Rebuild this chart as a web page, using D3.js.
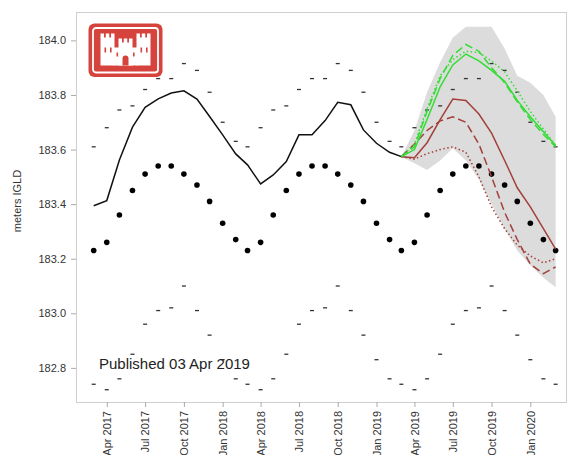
<!DOCTYPE html>
<html>
<head>
<meta charset="utf-8">
<script src="https://cdn.jsdelivr.net/npm/d3@7"></script>
<style>
  body { margin: 0; background: #fff; }
  svg { font-family: "Liberation Sans", Arial, sans-serif; }
</style>
</head>
<body>
<div class="chart-container"></div>
<script>
// monthly climatology (Jan..Dec): long-term mean, record high, record low
const avgByMonth = [183.33, 183.27, 183.23, 183.26, 183.36, 183.45, 183.51, 183.54, 183.54, 183.51, 183.47, 183.41];
const maxByMonth = [183.70, 183.63, 183.61, 183.68, 183.745, 183.76, 183.82, 183.86, 183.86, 183.915, 183.89, 183.81];
const minByMonth = [182.83, 182.76, 182.74, 182.72, 182.76, 182.85, 182.96, 183.01, 183.02, 183.10, 183.01, 182.92];

// recorded monthly levels, Mar 2017 .. Mar 2019
const recorded = [183.394, 183.413, 183.562, 183.682, 183.755, 183.786, 183.807, 183.815, 183.785, 183.721,
  183.654, 183.584, 183.544, 183.474, 183.507, 183.556, 183.654, 183.654, 183.706, 183.773, 183.764, 183.672,
  183.623, 183.59, 183.574];

// forecast, Mar 2019 .. Mar 2020
const greenSolid  = [183.574, 183.60, 183.71, 183.83, 183.91, 183.95, 183.925, 183.89, 183.85, 183.78, 183.72, 183.665, 183.615];
const greenDashed = [183.574, 183.61, 183.74, 183.86, 183.945, 183.985, 183.96, 183.90, 183.845, 183.775, 183.71, 183.655, 183.61];
const greenDotted = [183.574, 183.62, 183.75, 183.87, 183.93, 183.96, 183.955, 183.925, 183.885, 183.815, 183.74, 183.675, 183.615];
const redSolid    = [183.574, 183.57, 183.625, 183.71, 183.785, 183.78, 183.73, 183.66, 183.56, 183.46, 183.39, 183.31, 183.235];
const redDashed   = [183.574, 183.62, 183.67, 183.705, 183.72, 183.70, 183.62, 183.50, 183.37, 183.27, 183.18, 183.145, 183.17];
const redDotted   = [183.574, 183.565, 183.585, 183.60, 183.61, 183.59, 183.50, 183.39, 183.31, 183.25, 183.21, 183.185, 183.20];
const bandUpper   = [183.574, 183.67, 183.81, 183.92, 184.01, 184.05, 184.05, 184.05, 183.97, 183.87, 183.845, 183.80, 183.72];
const bandLower   = [183.574, 183.55, 183.525, 183.56, 183.605, 183.56, 183.49, 183.40, 183.31, 183.23, 183.175, 183.13, 183.095];

const yTicks = [182.8, 183.0, 183.2, 183.4, 183.6, 183.8, 184.0];
const publishedText = 'Published 03 Apr 2019';

const width = 569;
const height = 455;
const margin = { top: 12, right: 2, bottom: 53, left: 76 };

const svg = d3.select('.chart-container').append('svg')
  .attr('width', width).attr('height', height);

const x = d3.scaleTime()
  .domain([new Date(2017, 0, 18), new Date(2020, 2, 28)])
  .range([margin.left, width - margin.right]);
const y = d3.scaleLinear()
  .domain([182.675, 184.104])
  .range([height - margin.bottom, margin.top]);

const histMonths = d3.timeMonth.range(new Date(2017, 2, 1), new Date(2020, 2, 2));
const obsMonths = d3.timeMonth.range(new Date(2017, 2, 1), new Date(2019, 2, 2));
const fcMonths = d3.timeMonth.range(new Date(2019, 2, 1), new Date(2020, 2, 2));

// frame
svg.append('rect')
  .attr('x', margin.left + 0.5).attr('y', margin.top + 0.5)
  .attr('width', width - margin.left - margin.right - 1)
  .attr('height', height - margin.top - margin.bottom)
  .attr('fill', 'none').attr('stroke', '#cfcfcf');

// forecast range band
const band = d3.area()
  .x((d, i) => x(fcMonths[i]))
  .y0((d, i) => y(bandLower[i]))
  .y1(d => y(d));
svg.append('path').datum(bandUpper)
  .attr('d', band).attr('fill', '#dcdcdc');

// record high / low dashes
const dashW = 4;
[maxByMonth, minByMonth].forEach(arr => {
  svg.append('g').selectAll('line')
    .data(histMonths).enter().append('line')
    .attr('x1', d => x(d) - dashW / 2).attr('x2', d => x(d) + dashW / 2)
    .attr('y1', d => y(arr[d.getMonth()])).attr('y2', d => y(arr[d.getMonth()]))
    .attr('stroke', '#333').attr('stroke-width', 1.3);
});

// long term average dots
svg.append('g').selectAll('circle')
  .data(histMonths).enter().append('circle')
  .attr('cx', d => x(d)).attr('cy', d => y(avgByMonth[d.getMonth()]))
  .attr('r', 2.8).attr('fill', '#000');

// recorded line
const line = d3.line().x(d => x(d[0])).y(d => y(d[1]));
svg.append('path').datum(obsMonths.map((m, i) => [m, recorded[i]]))
  .attr('d', line).attr('fill', 'none').attr('stroke', '#111').attr('stroke-width', 1.5);

// forecast lines
const series = [
  { v: redDotted, c: '#a3403a', dash: '1.5,2.5' },
  { v: redDashed, c: '#a3403a', dash: '8,4' },
  { v: redSolid, c: '#a3403a', dash: null },
  { v: greenDotted, c: '#33dd33', dash: '1.5,2.5' },
  { v: greenDashed, c: '#33dd33', dash: '8,4' },
  { v: greenSolid, c: '#33dd33', dash: null }
];
series.forEach(s => {
  svg.append('path').datum(fcMonths.map((m, i) => [m, s.v[i]]))
    .attr('d', line).attr('fill', 'none')
    .attr('stroke', s.c).attr('stroke-width', 1.5)
    .attr('stroke-dasharray', s.dash);
});

// axes
const yAxis = d3.axisLeft(y).tickValues(yTicks).tickFormat(d3.format('.1f')).tickSize(5).tickPadding(5);
const yg = svg.append('g').attr('transform', `translate(${margin.left},0)`).call(yAxis);
yg.select('.domain').remove();
yg.selectAll('line').attr('stroke', '#aaa');
yg.selectAll('text').attr('fill', '#333').style('font-size', '11px');

const xAxis = d3.axisBottom(x).ticks(d3.timeMonth.filter(d => d.getMonth() % 3 === 0))
  .tickFormat(d3.timeFormat('%b %Y')).tickSize(5);
const xg = svg.append('g').attr('transform', `translate(0,${height - margin.bottom})`).call(xAxis);
xg.select('.domain').remove();
xg.selectAll('line').attr('stroke', '#aaa');
xg.selectAll('text')
  .attr('transform', 'rotate(-90)')
  .attr('text-anchor', 'end')
  .attr('x', -9).attr('y', 0).attr('dy', '0.35em')
  .attr('fill', '#333').style('font-size', '11px');

svg.append('text')
  .attr('transform', `translate(21,201) rotate(-90)`)
  .attr('text-anchor', 'middle')
  .attr('fill', '#333').style('font-size', '11px')
  .text('meters IGLD');

svg.append('text')
  .attr('x', 99).attr('y', 369)
  .attr('fill', '#222').style('font-size', '15px')
  .text(publishedText);

// logo
const logo = svg.append('g').attr('transform', 'translate(88.5,23.5)');
logo.append('rect').attr('width', 74).attr('height', 53.5).attr('rx', 6).attr('fill', '#d5433c');
logo.append('rect').attr('x', 4.5).attr('y', 4.5).attr('width', 65).attr('height', 44.5).attr('rx', 3)
  .attr('fill', 'none').attr('stroke', '#fff').attr('stroke-width', 1.8);
const castle = [
  [12, 14, 14, 28], [48, 14, 14, 28], [30, 19, 14, 23], [25, 24, 24, 18],
  [12, 10, 3.5, 4.5], [17.25, 10, 3.5, 4.5], [22.5, 10, 3.5, 4.5],
  [48, 10, 3.5, 4.5], [53.25, 10, 3.5, 4.5], [58.5, 10, 3.5, 4.5],
  [30, 15, 3.5, 4.5], [35.25, 15, 3.5, 4.5], [40.5, 15, 3.5, 4.5]
];
logo.selectAll('rect.c').data(castle).enter().append('rect').attr('class', 'c')
  .attr('x', d => d[0]).attr('y', d => d[1]).attr('width', d => d[2]).attr('height', d => d[3])
  .attr('fill', '#fff');
const windows = [[16, 24, 1.6, 5], [21.5, 24, 1.6, 5], [52, 24, 1.6, 5], [57.5, 24, 1.6, 5], [28, 29, 1.6, 4], [44.5, 29, 1.6, 4]];
logo.selectAll('rect.w').data(windows).enter().append('rect').attr('class', 'w')
  .attr('x', d => d[0]).attr('y', d => d[1]).attr('width', d => d[2]).attr('height', d => d[3])
  .attr('fill', '#d5433c');
logo.append('path').attr('d', 'M34,42 V35 A3,3 0 0 1 40,35 V42 Z').attr('fill', '#d5433c');
</script>
</body>
</html>
